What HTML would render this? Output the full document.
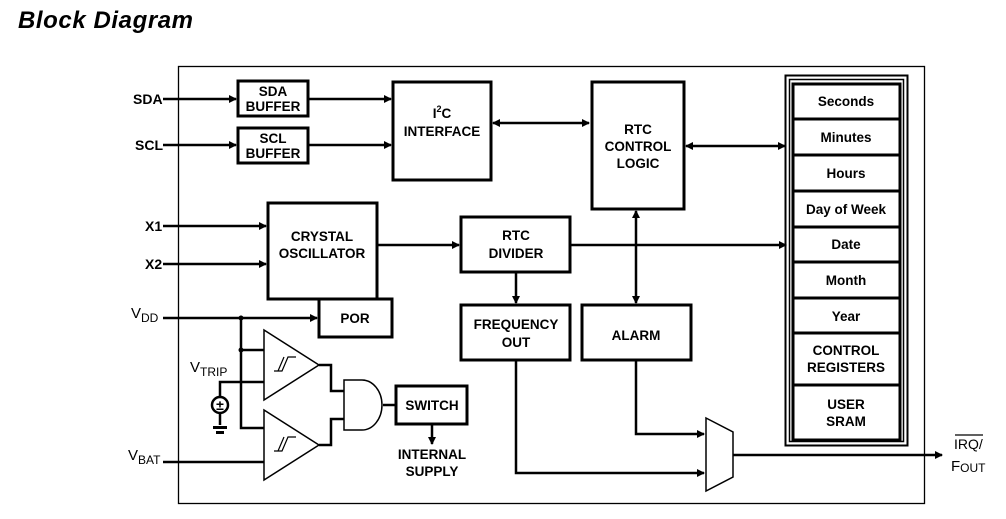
<!DOCTYPE html>
<html><head><style>
body{margin:0;background:#fff;}
svg text{font-family:"Liberation Sans",Arial,sans-serif;font-weight:bold;fill:#000;}
</style></head><body>
<svg width="1006" height="514" viewBox="0 0 1006 514" xmlns="http://www.w3.org/2000/svg">
<defs><marker id="a" markerWidth="8" markerHeight="8" refX="7" refY="4" orient="auto" markerUnits="userSpaceOnUse"><path d="M0,0 L8,4 L0,8 z" fill="#000"/></marker>
<marker id="b" markerWidth="8" markerHeight="8" refX="1" refY="4" orient="auto" markerUnits="userSpaceOnUse"><path d="M8,0 L0,4 L8,8 z" fill="#000"/></marker></defs>
<text x="18" y="28" font-size="24" font-style="italic" textLength="175">Block Diagram</text>
<rect x="178.5" y="66.5" width="746" height="437" fill="none" stroke="#000" stroke-width="1.3"/>
<g fill="none" stroke="#000" stroke-width="3">
<rect x="238" y="81" width="70" height="35"/>
<rect x="238" y="128" width="70" height="35"/>
<rect x="393" y="82" width="98" height="98"/>
<rect x="592" y="82" width="92" height="127"/>
<rect x="268" y="203" width="109" height="96"/>
<rect x="461" y="217" width="109" height="55"/>
<rect x="461" y="305" width="109" height="55"/>
<rect x="582" y="305" width="109" height="55"/>
<rect x="319" y="299" width="73" height="38"/>
<rect x="396" y="386" width="71" height="38"/>
</g>
<g fill="none" stroke="#000" stroke-width="2.5">
<line x1="163" y1="99" x2="236" y2="99" marker-end="url(#a)"/>
<line x1="163" y1="145" x2="236" y2="145" marker-end="url(#a)"/>
<line x1="308" y1="99" x2="391" y2="99" marker-end="url(#a)"/>
<line x1="308" y1="145" x2="391" y2="145" marker-end="url(#a)"/>
<line x1="493" y1="123" x2="589" y2="123" marker-start="url(#b)" marker-end="url(#a)"/>
<line x1="686" y1="146" x2="785" y2="146" marker-start="url(#b)" marker-end="url(#a)"/>
<line x1="163" y1="226" x2="266" y2="226" marker-end="url(#a)"/>
<line x1="163" y1="264" x2="266" y2="264" marker-end="url(#a)"/>
<line x1="377" y1="245" x2="459" y2="245" marker-end="url(#a)"/>
<line x1="570" y1="245" x2="786" y2="245" marker-end="url(#a)"/>
<line x1="636" y1="211" x2="636" y2="303" marker-start="url(#b)" marker-end="url(#a)"/>
<line x1="516" y1="272" x2="516" y2="303" marker-end="url(#a)"/>
<polyline points="516,360 516,473 704,473" marker-end="url(#a)"/>
<polyline points="636,360 636,434 704,434" marker-end="url(#a)"/>
<line x1="733" y1="455" x2="942" y2="455" marker-end="url(#a)"/>
<line x1="163" y1="318" x2="317" y2="318" marker-end="url(#a)"/>
<polyline points="241,318 241,428 264,428"/>
<line x1="241" y1="350" x2="264" y2="350"/>
<polyline points="220,397 220,382 264,382"/>
<line x1="163" y1="462" x2="264" y2="462"/>
<polyline points="319,365 331,365 331,391 344,391"/>
<polyline points="319,445 331,445 331,419 344,419"/>
<line x1="383" y1="405" x2="396" y2="405"/>
<line x1="432" y1="424" x2="432" y2="444" marker-end="url(#a)"/>
<line x1="220" y1="413" x2="220" y2="425"/>
</g>
<circle cx="241" cy="318" r="2.5"/><circle cx="241" cy="350" r="2.5"/>
<circle cx="220" cy="405" r="8" fill="none" stroke="#000" stroke-width="2.5"/>
<text x="220" y="410" font-size="14" text-anchor="middle">±</text>
<rect x="213" y="426" width="14" height="3"/><rect x="216" y="431" width="8" height="3"/>
<g fill="#fff" stroke="#000" stroke-width="1.5">
<polygon points="264,330 264,400 319,365"/>
<polygon points="264,410 264,480 319,445"/>
<path d="M344,380 L362,380 A20,25 0 0 1 362,430 L344,430 Z"/>
<polygon points="706,418 733,432 733,477 706,491"/>
</g>
<g fill="none" stroke="#000" stroke-width="1.2">
<polyline points="274,371 282,371 288,357 296,357"/><polyline points="278,371 284,357"/>
<polyline points="274,451 282,451 288,437 296,437"/><polyline points="278,451 284,437"/>
</g>
<rect x="785.5" y="75.5" width="122" height="370" fill="none" stroke="#000" stroke-width="2"/>
<rect x="789.5" y="79.5" width="114" height="362" fill="none" stroke="#000" stroke-width="1.5"/>
<g fill="none" stroke="#000" stroke-width="3">
<rect x="793" y="84" width="107" height="35"/><rect x="793" y="119" width="107" height="36"/>
<rect x="793" y="155" width="107" height="36"/><rect x="793" y="191" width="107" height="36"/>
<rect x="793" y="227" width="107" height="35"/><rect x="793" y="262" width="107" height="36"/>
<rect x="793" y="298" width="107" height="35"/><rect x="793" y="333" width="107" height="52"/>
<rect x="793" y="385" width="107" height="55"/>
</g>
<g font-size="13.5" text-anchor="middle">
<text x="846" y="106">Seconds</text><text x="846" y="142">Minutes</text><text x="846" y="178">Hours</text>
<text x="846" y="214">Day of Week</text><text x="846" y="249">Date</text><text x="846" y="285">Month</text>
<text x="846" y="321">Year</text><text x="846" y="355">CONTROL</text><text x="846" y="372">REGISTERS</text>
<text x="846" y="409">USER</text><text x="846" y="426">SRAM</text>
<text x="273" y="96">SDA</text><text x="273" y="111">BUFFER</text>
<text x="273" y="143">SCL</text><text x="273" y="158">BUFFER</text>
<text x="442" y="118">I<tspan font-size="9" dy="-6">2</tspan><tspan dy="6">C</tspan></text><text x="442" y="136">INTERFACE</text>
<text x="638" y="134">RTC</text><text x="638" y="151">CONTROL</text><text x="638" y="168">LOGIC</text>
<text x="322" y="241">CRYSTAL</text><text x="322" y="258">OSCILLATOR</text>
<text x="516" y="240">RTC</text><text x="516" y="258">DIVIDER</text>
<text x="516" y="329">FREQUENCY</text><text x="516" y="347">OUT</text>
<text x="636" y="340">ALARM</text><text x="355" y="323">POR</text><text x="432" y="410">SWITCH</text>
<text x="432" y="459">INTERNAL</text><text x="432" y="476">SUPPLY</text>
</g>
<g font-size="14" font-weight="normal">
<text x="133" y="104" style="font-weight:bold">SDA</text>
<text x="135" y="150" style="font-weight:bold">SCL</text>
<text x="145" y="231" style="font-weight:bold">X1</text>
<text x="145" y="269" style="font-weight:bold">X2</text>
<text x="131" y="318" style="font-weight:normal" font-size="15">V<tspan font-size="12" dy="4">DD</tspan></text>
<text x="190" y="372" font-size="15" style="font-weight:normal">V<tspan font-size="12" dy="4">TRIP</tspan></text>
<text x="128" y="460" font-size="15" style="font-weight:normal">V<tspan font-size="12" dy="4">BAT</tspan></text>
<text x="954" y="449" font-size="14" style="font-weight:normal">IRQ/</text>
<text x="951" y="471" font-size="15" style="font-weight:normal">F<tspan font-size="12" dy="1">OUT</tspan></text>
</g>
<line x1="955" y1="435" x2="983" y2="435" stroke="#000" stroke-width="1.2"/>
</svg>
</body></html>
